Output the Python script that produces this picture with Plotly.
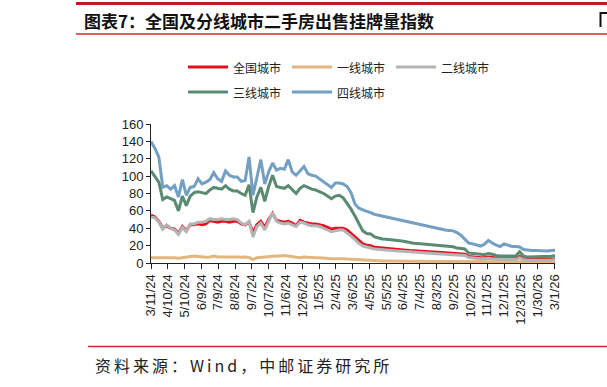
import pandas as pd
import plotly.graph_objects as go

# ---------------- data ----------------
start_date = "2024-03-11"
n_weeks = 104

national = [55, 53, 48, 40, 43, 40, 39, 34, 42, 37, 44, 44, 45, 44, 45, 49, 48, 47, 48, 48,
            47, 48, 48, 45, 44, 47, 35, 44, 48, 41, 50, 57, 49, 48, 47, 48, 46, 43, 49, 47,
            46, 45, 45, 44, 43, 41, 39, 40, 40, 40, 38, 34, 30, 25.5, 22, 20.5, 19.8, 18, 17.5, 17,
            16.5, 16.2, 15.8, 15.5, 15.2, 14.8, 14.4, 14, 13.8, 13.5, 13.2, 12.9, 12.6, 12.3, 12, 11.7,
            11.5, 11.3, 10.8, 10.5, 10.2, 7.5, 6.8, 6.4, 6, 6, 6.8, 6.2, 5.4, 5, 5, 5, 5, 5,
            7.6, 4.6, 4.3, 4.2, 4.2, 4.2, 4.2, 4.2, 4.3, 4.6]

tier1 = [6, 6, 6, 6, 6, 6.5, 6, 5.5, 6, 7, 7, 8, 7.5, 7, 6.5, 7, 8, 7, 7, 7,
         7.5, 7, 7, 6.5, 7, 6.5, 4, 6, 6.5, 7, 7, 8, 8, 8, 8.5, 8, 7, 6.5, 6, 7,
         6.5, 6, 6, 6, 5.5, 5, 5, 5, 5.4, 5, 4.6, 4.3, 4, 3.5, 3, 2.8, 2.6, 2.5, 2.4, 2.3,
         2.2, 2.1, 2.1, 2, 2, 2, 1.9, 1.9, 1.9, 1.8, 1.8, 1.8, 1.8, 1.7, 1.7, 1.7,
         1.7, 1.6, 1.6, 1.6, 1.6, 1.5, 1.5, 1.5, 1.5, 1.5, 1.5, 1.5, 1.4, 1.4, 1.4, 1.4, 1.4, 1.4,
         1.5, 1.3, 1.3, 1.3, 1.2, 1.2, 1.2, 1.2, 1.2, 1.2]

tier2 = [53, 52, 47, 39, 44, 40, 38, 33, 41, 36, 45, 45, 47, 47, 48, 51, 50, 50, 51, 50,
         50, 51, 50, 46, 44, 48, 30, 42, 46, 38, 48, 58, 48, 46, 45, 46, 44, 42, 47, 46,
         44, 43, 43, 42, 40, 38, 36, 37, 38, 38, 35, 31, 27, 22.5, 19.5, 18, 17.3, 16, 15.5, 15,
         14.6, 14.3, 14, 13.7, 13.4, 13, 12.7, 12.4, 12.1, 11.8, 11.5, 11.2, 10.9, 10.6, 10.3, 10,
         9.8, 9.6, 9.2, 9, 8.7, 6.2, 5.6, 5.3, 5, 5, 5.5, 5, 4.4, 4.1, 4, 4, 4, 4,
         6, 3.6, 3.3, 3.2, 3.2, 3.2, 3.2, 3.2, 3.3, 3.6]

tier3 = [106, 100, 93, 73, 76, 74, 72, 60, 77, 66, 77, 81, 82, 81, 80, 84, 87, 86, 85, 89,
         85, 83, 83, 80, 78, 90, 58, 76, 87, 71, 88, 101, 88, 87, 86, 89, 84, 80, 86, 89,
         87, 85, 84, 82, 80, 77, 74, 77, 78, 75, 69, 62, 54, 45, 37, 34, 33.5, 30, 28.5, 27.7,
         27.3, 27, 26.3, 25.8, 25.3, 24.5, 23.5, 22.8, 22.5, 22, 21.3, 20.8, 20.4, 20, 19.6, 19.2,
         18.8, 18.6, 17.2, 16.7, 16.2, 11.5, 10.8, 10.4, 10, 9.6, 10.8, 10, 8.6, 8.2, 8, 8, 8, 8.2,
         13, 7.8, 7, 7, 7, 7, 7, 7, 7.7, 8.5]

tier4 = [140, 132, 122, 87, 89, 85, 89, 76, 96, 78, 87, 88, 97, 91, 93, 96, 104, 97, 94, 106,
         101, 99, 99, 94, 95, 122, 78, 100, 119, 91, 105, 115, 107, 109, 108, 119, 105, 101, 106, 111,
         103, 101, 100, 97, 94, 90, 87, 92, 92, 91, 88, 81, 68, 63, 61, 59.5, 58, 56, 55, 54,
         53, 52, 51, 50, 49, 48, 46.5, 45.5, 44.5, 43.5, 42.5, 41.5, 40.5, 40, 39, 38,
         37.5, 37, 35, 32, 27.5, 23, 22, 21, 19.5, 21.5, 26, 23, 20.5, 19, 22, 20.5, 19, 19,
         18.5, 15.5, 14.8, 14.5, 14.5, 14, 14, 13.8, 14.5, 14.8]

series_names = ["全国城市", "一线城市", "二线城市", "三线城市", "四线城市"]
series_colors = ["#e60f1e", "#e2b67c", "#b4b4b4", "#5a8a72", "#729fc2"]

tick_dates = ["2024-03-11", "2024-04-10", "2024-05-10", "2024-06-09", "2024-07-09",
              "2024-08-08", "2024-09-07", "2024-10-07", "2024-11-06", "2024-12-06",
              "2025-01-05", "2025-02-04", "2025-03-06", "2025-04-05", "2025-05-05",
              "2025-06-04", "2025-07-04", "2025-08-03", "2025-09-02", "2025-10-02",
              "2025-11-01", "2025-12-01", "2025-12-31", "2026-01-30", "2026-03-01"]
tick_labels = ["3/11/24", "4/10/24", "5/10/24", "6/9/24", "7/9/24", "8/8/24", "9/7/24",
               "10/7/24", "11/6/24", "12/6/24", "1/5/25", "2/4/25", "3/6/25", "4/5/25",
               "5/5/25", "6/4/25", "7/4/25", "8/3/25", "9/2/25", "10/2/25", "11/1/25",
               "12/1/25", "12/31/25", "1/30/26", "3/1/26"]
y_ticks = [0, 20, 40, 60, 80, 100, 120, 140, 160]

title_text = "图表7：全国及分线城市二手房出售挂牌量指数"
source_text = "资料来源：Wind，中邮证券研究所"

# ---------------- layout helpers ----------------
W, H = 607, 387
ML, MR, MT, MB = 151, 52, 124, 124
PW, PH = W - ML - MR, H - MT - MB


def px(x):
    return (x - ML) / PW


def py(y):
    return (H - MB - y) / PH


dates = pd.date_range(start_date, periods=n_weeks, freq="7D")
all_series = [national, tier1, tier2, tier3, tier4]

fig = go.Figure()
for name, vals, col in zip(series_names, all_series, series_colors):
    fig.add_trace(go.Scatter(x=dates, y=vals, mode="lines", name=name,
                             line=dict(color=col, width=3), showlegend=False))

shapes = []
annotations = []

# decorative red rules
shapes.append(dict(type="line", xref="paper", yref="paper", x0=px(76), x1=px(607),
                   y0=py(3.5), y1=py(3.5), line=dict(color="#c8161e", width=3)))
shapes.append(dict(type="line", xref="paper", yref="paper", x0=px(76), x1=px(607),
                   y0=py(34), y1=py(34), line=dict(color="#d8262e", width=1.5)))
shapes.append(dict(type="line", xref="paper", yref="paper", x0=px(88), x1=px(607),
                   y0=py(346.5), y1=py(346.5), line=dict(color="#d8262e", width=1.5)))
# fragment of the neighbouring chart's title at the right edge
shapes.append(dict(type="path", xref="paper", yref="paper",
                   path="M %f %f L %f %f L %f %f" % (px(607), py(13), px(600.5), py(13),
                                                   px(600.5), py(27)),
                   line=dict(color="#111", width=2)))

annotations.append(dict(text="<b>" + title_text + "</b>", xref="paper", yref="paper",
                        x=px(82), y=py(20), xanchor="left", yanchor="middle", showarrow=False,
                        font=dict(family="Noto Sans CJK SC", size=17, color="#111")))
annotations.append(dict(text='<span style="letter-spacing:3px">' + source_text + '</span>',
                        xref="paper", yref="paper",
                        x=px(93), y=py(365), xanchor="left", yanchor="middle", showarrow=False,
                        font=dict(family="Noto Sans CJK SC", size=16, color="#222")))

# manual legend
legend_pos = [(188, 67), (292, 67), (396, 67), (188, 92), (292, 92)]
for (lx, ly), name, col in zip(legend_pos, series_names, series_colors):
    shapes.append(dict(type="line", xref="paper", yref="paper", x0=px(lx), x1=px(lx + 40),
                       y0=py(ly), y1=py(ly), line=dict(color=col, width=3)))
    annotations.append(dict(text=name, xref="paper", yref="paper", x=px(lx + 43), y=py(ly),
                            xanchor="left", yanchor="middle", showarrow=False,
                            font=dict(family="Noto Sans CJK SC", size=12, color="#222")))

fig.update_layout(
    width=W, height=H,
    margin=dict(l=ML, r=MR, t=MT, b=MB, autoexpand=False),
    paper_bgcolor="white", plot_bgcolor="white",
    shapes=shapes, annotations=annotations,
    font=dict(family="Liberation Sans, Arial", size=12, color="#222"),
)
fig.update_xaxes(type="date", range=[start_date, "2026-03-02"],
                 tickmode="array", tickvals=tick_dates, ticktext=tick_labels,
                 tickangle=-90, tickfont=dict(size=13, color="#222"),
                 showline=True, linecolor="#222", linewidth=1,
                 ticks="outside", ticklen=5, tickcolor="#222",
                 showgrid=False, zeroline=False, automargin=False)
fig.update_yaxes(range=[0, 160], tickmode="array", tickvals=y_ticks,
                 tickfont=dict(size=13, color="#222"),
                 showline=True, linecolor="#222", linewidth=1,
                 ticks="outside", ticklen=4, tickcolor="#222",
                 showgrid=False, zeroline=False, automargin=False)

fig.write_html("out.html", config={"displayModeBar": False},
               post_script="document.body.style.margin='0';document.body.style.overflow='hidden';")
